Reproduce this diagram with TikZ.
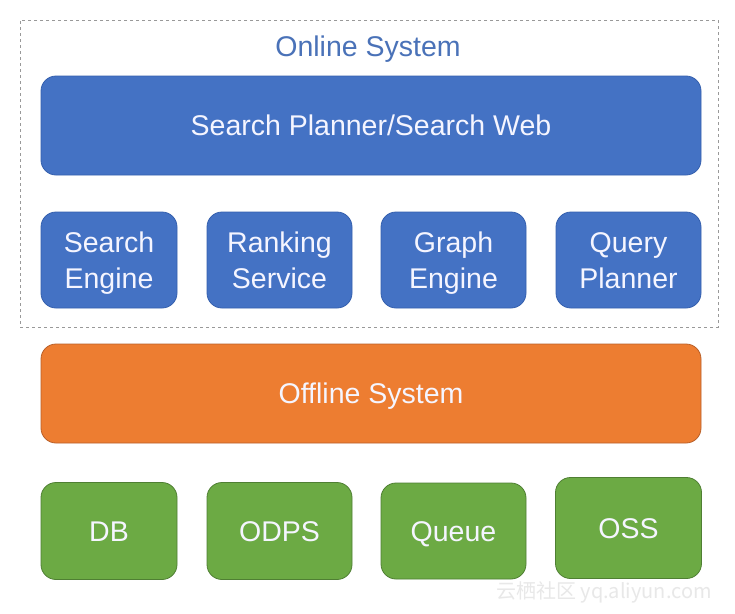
\documentclass[tikz,border=0pt]{standalone}
\usepackage{fontspec}
\setmainfont{Liberation Sans}
\newfontfamily\cjk{Noto Sans CJK SC}
\definecolor{boxblue}{HTML}{4472C4}
\definecolor{boxblueline}{HTML}{3560AE}
\definecolor{boxorange}{HTML}{ED7D31}
\definecolor{boxorangeline}{HTML}{B9602A}
\definecolor{boxgreen}{HTML}{6CAA44}
\definecolor{boxgreenline}{HTML}{4F7F33}
\definecolor{titleblue}{HTML}{4A72B8}
\begin{document}
\begin{tikzpicture}[x=1pt, y=-1pt,
    box/.style={rounded corners=15pt, inner sep=0pt, align=center, line width=0.8pt,
      text=white!96!blue, font=\fontsize{28.5}{36}\selectfont},
    oneline/.style={text height=20.4pt, text depth=0pt},
    twoline/.style={text height=56.4pt, text depth=0pt},
    bluebox/.style={box, fill=boxblue, draw=boxblueline},
    orangebox/.style={box, fill=boxorange, draw=boxorangeline},
    greenbox/.style={box, fill=boxgreen, draw=boxgreenline},
    frame/.style={draw=gray!80, dashed, line width=0.6pt, inner sep=0pt}]
    \useasboundingbox[fill=white] (0,0) rectangle (735,613);

    % Online system frame
    \node (online) at (369,173.5) [frame, minimum width=698, minimum height=307] {};
    \node (title) at (368,46) [oneline, inner sep=0pt, text=titleblue, font=\fontsize{28.5}{36}\selectfont] {Online System};

    % First row of nodes
    \node (web) at (371,125.5) [bluebox, oneline, minimum width=660, minimum height=99] {Search Planner/Search Web};

    % Second row of nodes
    \node (engine) at (109,260) [bluebox, twoline, minimum width=136, minimum height=96] {Search\\Engine};
    \node (ranking) at (279.5,260) [bluebox, twoline, minimum width=145, minimum height=96] {Ranking\\Service};
    \node (graph) at (453.5,260) [bluebox, twoline, minimum width=145, minimum height=96] {Graph\\Engine};
    \node (query) at (628.5,260) [bluebox, twoline, minimum width=145, minimum height=96] {Query\\Planner};

    % Third row of nodes
    \node (offline) at (371,393.5) [orangebox, oneline, minimum width=660, minimum height=99] {Offline System};

    % Fourth row of nodes
    \node (db) at (109,531) [greenbox, oneline, minimum width=136, minimum height=97] {DB};
    \node (odps) at (279.5,531) [greenbox, oneline, minimum width=145, minimum height=97] {ODPS};
    \node (queue) at (453.5,531) [greenbox, oneline, minimum width=145, minimum height=96] {Queue};
    \node (oss) at (628.5,528) [greenbox, oneline, minimum width=146, minimum height=101] {OSS};

    % Watermark
    \node (mark) at (604,592) [text=gray!18, font=\cjk\fontsize{20}{24}\selectfont] {云栖社区 yq.aliyun.com};
\end{tikzpicture}
\end{document}
